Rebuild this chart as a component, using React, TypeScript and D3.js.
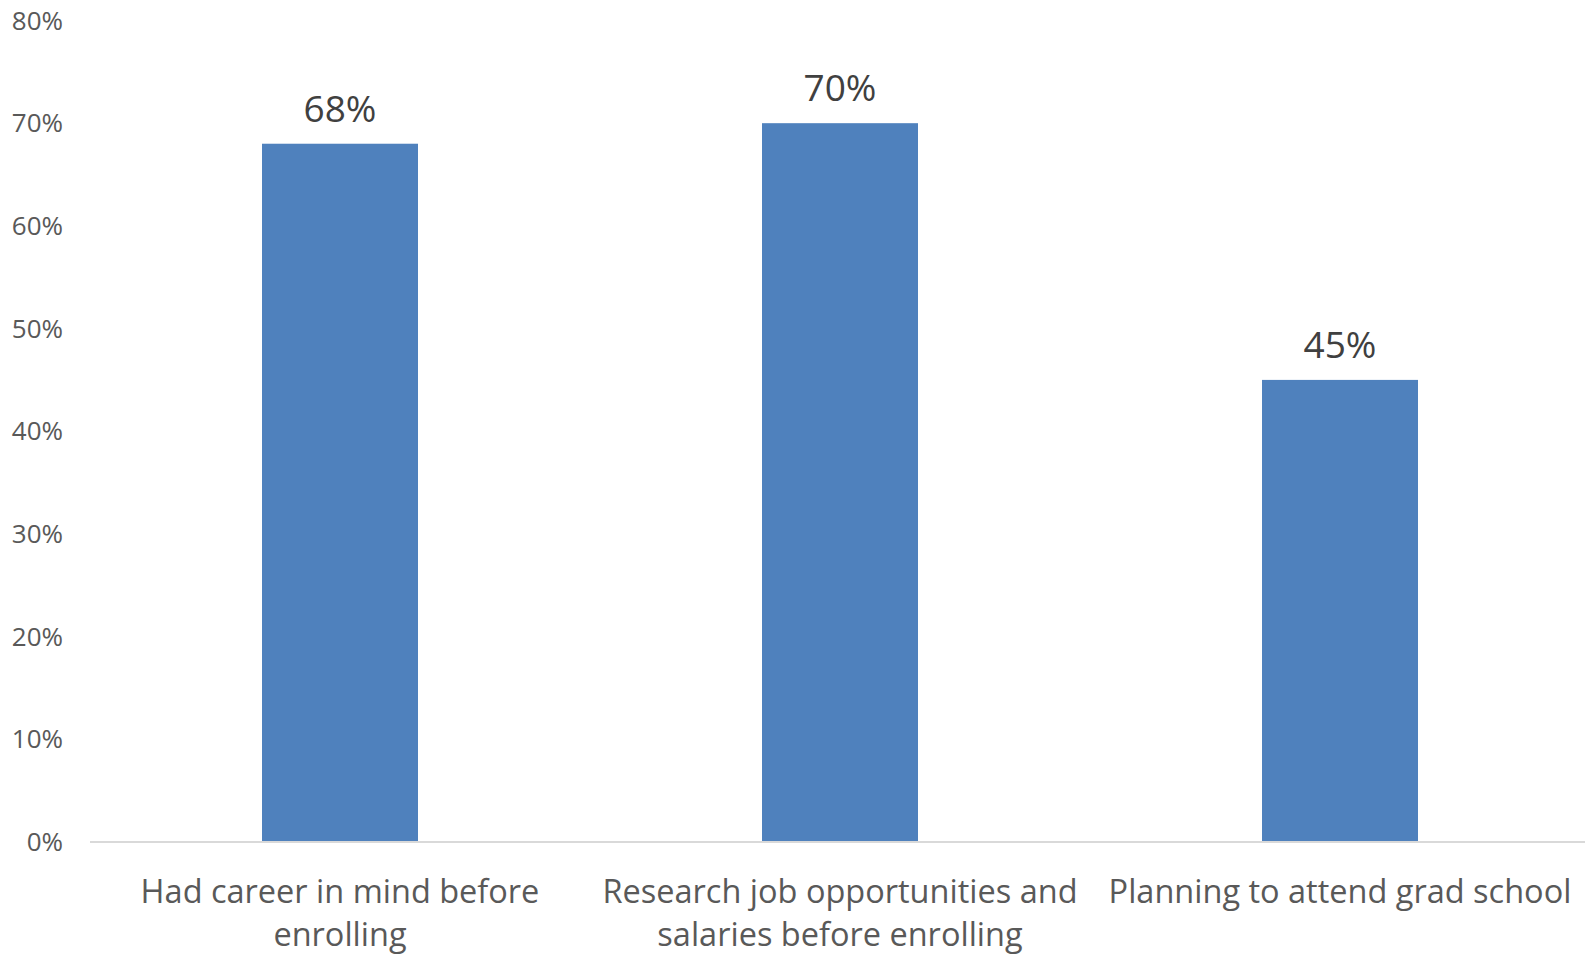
import React from "react";
import * as d3 from "d3";

const categories: string[][] = [
  ["Had career in mind before", "enrolling"],
  ["Research job opportunities and", "salaries before enrolling"],
  ["Planning to attend grad school"],
];
const values: number[] = [0.68, 0.7, 0.45];
const yTicks: number[] = [0, 0.1, 0.2, 0.3, 0.4, 0.5, 0.6, 0.7, 0.8];

const W = 1585;
const H = 955;
const FONT = "'Open Sans', 'Noto Sans', sans-serif";

export default function App() {
  const keys = categories.map((_, i) => String(i));
  const x = d3.scaleBand<string>().domain(keys).range([90, 1590]).paddingInner(0.688).paddingOuter(0.344);
  const y = d3.scaleLinear().domain([0, 0.8]).range([842, 20.5]);
  const fmt = d3.format(".0%");

  return (
    <svg width={W} height={H} style={{ position: "absolute", left: 0, top: 0, background: "#fff" }}>
      {yTicks.map((t) => (
        <text
          key={t}
          x={63}
          y={y(t)}
          dy="0.35em"
          textAnchor="end"
          fontFamily={FONT}
          fontSize={26}
          fill="#595959"
        >
          {fmt(t)}
        </text>
      ))}
      {values.map((v, i) => (
        <rect
          key={i}
          x={x(String(i))!}
          y={y(v)}
          width={x.bandwidth()}
          height={y(0) - y(v)}
          fill="#4F81BD"
        />
      ))}
      <line x1={90} x2={W} y1={y(0)} y2={y(0)} stroke="#D9D9D9" strokeWidth={2} />
      {values.map((v, i) => (
        <text
          key={i}
          x={x(String(i))! + x.bandwidth() / 2}
          y={y(v) - 22}
          textAnchor="middle"
          fontFamily={FONT}
          fontSize={37}
          fill="#404040"
        >
          {fmt(v)}
        </text>
      ))}
      {categories.map((lines, i) => (
        <text
          key={i}
          x={x(String(i))! + x.bandwidth() / 2}
          y={903}
          textAnchor="middle"
          fontFamily={FONT}
          fontSize={32.5}
          fill="#595959"
        >
          {lines.map((l, j) => (
            <tspan key={j} x={x(String(i))! + x.bandwidth() / 2} dy={j === 0 ? 0 : 43}>
              {l}
            </tspan>
          ))}
        </text>
      ))}
    </svg>
  );
}
